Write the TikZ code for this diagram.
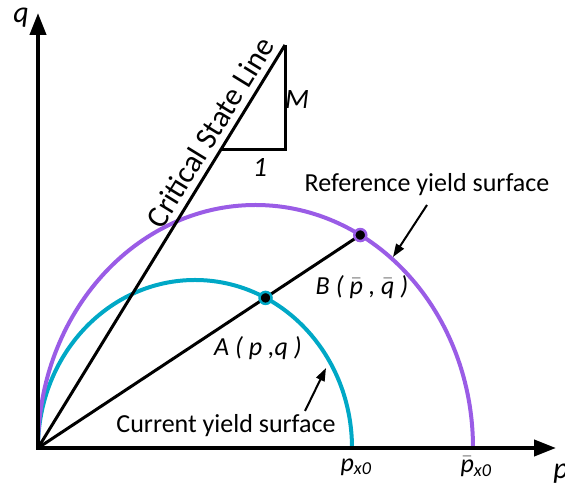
\documentclass[tikz,border=0pt]{standalone}
\usepackage{fontspec}
\setmainfont{Carlito}
\usetikzlibrary{arrows.meta,calc}
\newcommand{\barit}[1]{$\bar{\mbox{\itshape #1}}$}
\begin{document}
\begin{tikzpicture}[x=1pt, y=1pt, font=\fontsize{26}{28}\selectfont]
    % --- Colores ---
    \definecolor{curcyan}{HTML}{00A8C6}
    \definecolor{refpurple}{HTML}{9A5CE6}
    \tikzset{
        axis/.style={line width=4pt, -{Triangle[length=22pt,width=16pt]}},
        surf/.style={line width=4pt},
        thick line/.style={line width=3pt},
        callout/.style={line width=2pt, -{Triangle[length=13pt,width=9pt]}},
        statept/.style={circle, fill=black, draw=#1, line width=2.5pt, inner sep=0pt, minimum size=12pt},
        lbl/.style={font=\fontsize{26}{28}\selectfont\itshape, inner sep=0pt},
        txt/.style={font=\fontsize{26}{28}\selectfont, inner sep=0pt},
    }
    \useasboundingbox (0,0) rectangle (565,486);

    % --- Origen y centros de las superficies ---
    \coordinate (O) at (38,38);
    \coordinate (curC) at (195,38);
    \coordinate (refC) at (255.5,38);

    % --- Superficies de fluencia ---
    \draw[surf, curcyan] (O) arc[start angle=180, end angle=0, x radius=157, y radius=168];
    \draw[surf, refpurple] (O) arc[start angle=180, end angle=0, x radius=217.5, y radius=243];

    % --- Puntos A y B sobre las superficies ---
    \coordinate (A) at ([shift={(63.3:157 and 168)}]curC);
    \coordinate (B) at ([shift={(61.2:217.5 and 243)}]refC);
    \draw[thick line] (O) -- (B);

    % --- Critical State Line + triangulo de pendiente ---
    \coordinate (csl) at (285,441);
    \coordinate (cslfoot) at (285,336);
    \coordinate (cslleft) at (220.6,336);
    \draw[thick line] (O) -- node[sloped, above, pos=0.76, txt, font=\fontsize{31}{33}\selectfont, inner sep=6pt] (csllbl) {Critical State Line} (csl);
    \draw[thick line, line join=miter] (csl) -- (cslfoot) -- (cslleft);
    \node[lbl, font=\fontsize{28}{30}\selectfont\itshape] (M) at (297,386) {M};
    \node[lbl, font=\fontsize{28}{30}\selectfont\itshape] (one) at (260,318) {1};

    % --- Ejes ---
    \coordinate (pend) at (556,38);
    \coordinate (qend) at (38,473);
    \draw[axis] ([xshift=-2pt]O) -- (pend);
    \draw[axis] ([yshift=-2pt]O) -- (qend);
    \node[lbl, font=\fontsize{30}{32}\selectfont\itshape] (qlbl) at (21,468) {q};
    \node[lbl, font=\fontsize{30}{32}\selectfont\itshape] (plbl) at (561,12) {p};
    \node[lbl] (px0) at (356,19) {p\textsubscript{x0}};
    \node[lbl] (refpx0) at (476,19) {\barit{p}\textsubscript{x0}};

    % --- Puntos ---
    \node[statept=curcyan] (Adot) at (A) {};
    \node[statept=refpurple] (Bdot) at (B) {};
    \node[lbl] (Albl) at (258,138) {A ( p ,q )};
    \node[lbl] (Blbl) at (362,199) {B ( \barit{p} , \barit{q} )};

    % --- Etiquetas con flecha ---
    \node[txt] (reflbl) at (427,301) {Reference yield surface};
    \coordinate (reftail) at (427,281);
    \coordinate (refhead) at (393,229);
    \draw[callout] (reftail) -- (refhead);
    \node[txt] (curlbl) at (226,60) {Current yield surface};
    \coordinate (curtail) at (305,75);
    \coordinate (curhead) at (326,118);
    \draw[callout] (curtail) -- (curhead);
\end{tikzpicture}
\end{document}
